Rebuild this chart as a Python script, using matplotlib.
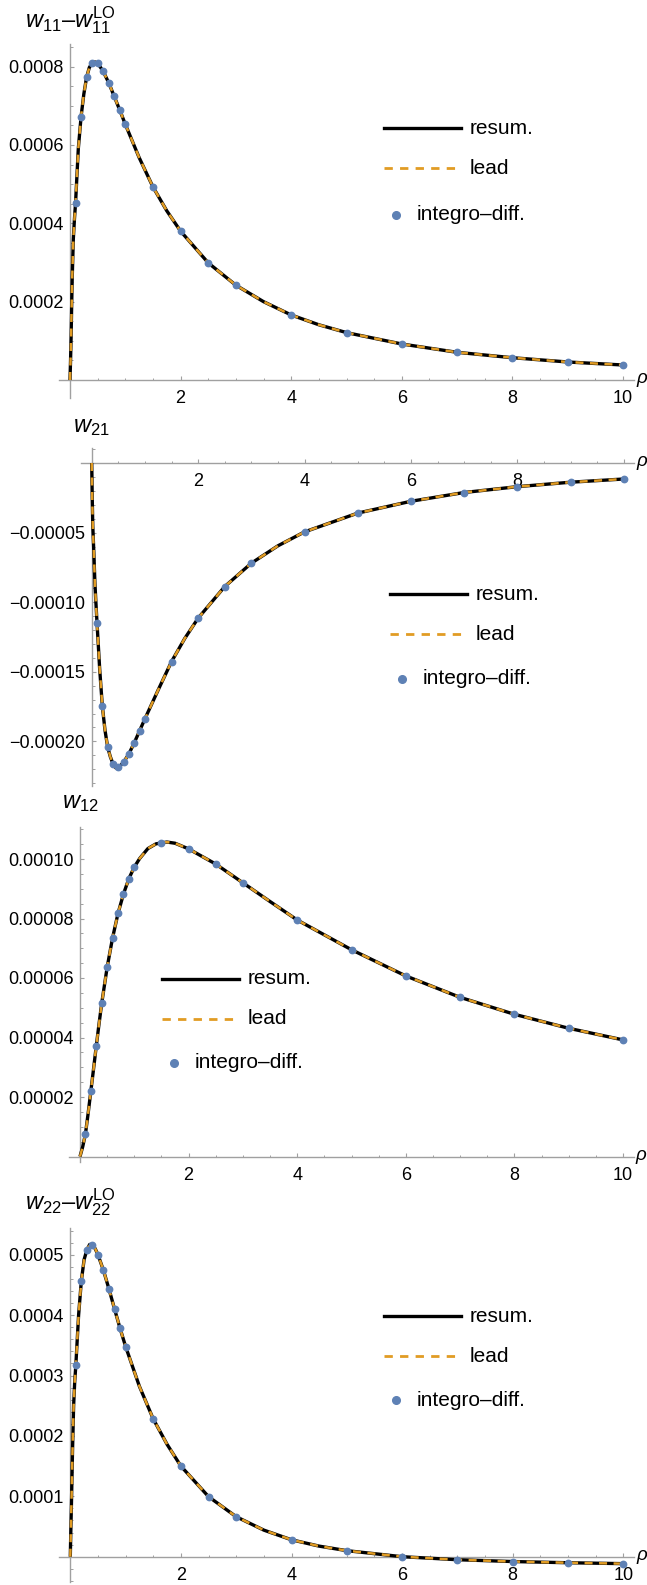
import numpy as np
import matplotlib
matplotlib.use("Agg")
import matplotlib.pyplot as plt
from matplotlib.lines import Line2D
from matplotlib.ticker import FixedLocator, MultipleLocator, FuncFormatter

plt.rcParams['font.family'] = ['Liberation Sans', 'DejaVu Sans']
plt.rcParams['mathtext.fontset'] = 'custom'
plt.rcParams['mathtext.rm'] = 'Liberation Sans'
plt.rcParams['mathtext.it'] = 'Liberation Sans:italic'

# Werte (Kurve resum. und lead liegen aufeinander)
rho_dots = [0.1, 0.2, 0.3, 0.4, 0.5, 0.6, 0.7, 0.8, 0.9, 1.0, 1.5, 2, 2.5, 3, 4, 5, 6, 7, 8, 9, 10]

# w11 - w11^LO
rho_11 = [0, 0.01, 0.02, 0.03, 0.04, 0.06, 0.08, 0.1, 0.15, 0.2, 0.25, 0.3, 0.35, 0.4, 0.45, 0.5, 0.6, 0.7, 0.8,
          0.9, 1.0, 1.25, 1.5, 1.75, 2, 2.5, 3, 3.5, 4, 4.5, 5, 6, 7, 8, 9, 10]
w11_curve = [0, 0.5, 1.1, 1.9, 2.6, 3.6, 4.1, 4.51, 5.9, 6.72, 7.30, 7.73, 7.98, 8.09, 8.12, 8.09, 7.88, 7.59, 7.24,
             6.89, 6.53, 5.68, 4.93, 4.32, 3.80, 2.99, 2.42, 2.00, 1.66, 1.41, 1.21, 0.919, 0.707, 0.569, 0.460, 0.383]
w11_dots = [4.51, 6.72, 7.73, 8.09, 8.09, 7.88, 7.59, 7.24, 6.89, 6.53, 4.93, 3.80, 2.99, 2.42, 1.66, 1.21,
            0.919, 0.707, 0.569, 0.460, 0.383]

# w21
rho_21 = [0, 0.01, 0.02, 0.04, 0.06, 0.08, 0.1, 0.15, 0.2, 0.25, 0.3, 0.35, 0.4, 0.45, 0.5, 0.55, 0.6, 0.7, 0.8,
          0.9, 1.0, 1.25, 1.5, 1.75, 2, 2.5, 3, 3.5, 4, 5, 6, 7, 8, 9, 10]
w21_curve = [0, -2.5, -4.5, -6.4, -8.6, -10.1, -11.49, -14.8, -17.47, -19.2, -20.41, -21.1, -21.61, -21.9, -21.85,
             -21.7, -21.49, -20.89, -20.10, -19.24, -18.38, -16.3, -14.27, -12.6, -11.15, -8.88, -7.2, -5.95, -4.95,
             -3.6, -2.75, -2.12, -1.7, -1.38, -1.15]
w21_dots = [-11.49, -17.47, -20.41, -21.61, -21.85, -21.49, -20.89, -20.10, -19.24, -18.38, -14.27, -11.15,
            -8.88, -7.2, -4.95, -3.6, -2.75, -2.12, -1.7, -1.38, -1.15]

# w12
rho_12 = [0, 0.05, 0.1, 0.15, 0.2, 0.25, 0.3, 0.35, 0.4, 0.5, 0.6, 0.7, 0.8, 0.9, 1.0, 1.1, 1.25, 1.4, 1.5, 1.6,
          1.75, 2, 2.5, 3, 3.5, 4, 5, 6, 7, 8, 9, 10]
w12_curve = [0, 0.33, 0.756, 1.45, 2.20, 2.95, 3.72, 4.45, 5.15, 6.36, 7.35, 8.17, 8.82, 9.34, 9.73, 10.02, 10.35,
             10.51, 10.54, 10.57, 10.53, 10.34, 9.83, 9.20, 8.57, 7.95, 6.95, 6.07, 5.35, 4.78, 4.31, 3.92]
w12_dots = [0.756, 2.20, 3.72, 5.15, 6.36, 7.35, 8.17, 8.82, 9.34, 9.73, 10.54, 10.34, 9.83, 9.20, 7.95, 6.95,
            6.07, 5.35, 4.78, 4.31, 3.92]

# w22 - w22^LO
rho_22 = [0, 0.01, 0.02, 0.04, 0.06, 0.08, 0.1, 0.15, 0.2, 0.25, 0.3, 0.35, 0.4, 0.45, 0.5, 0.6, 0.7, 0.8, 0.9,
          1.0, 1.25, 1.5, 1.75, 2, 2.5, 3, 3.5, 4, 4.5, 5, 6, 7, 8, 9, 10]
w22_curve = [0, 0.45, 0.85, 1.75, 2.5, 2.9, 3.17, 4.0, 4.57, 4.92, 5.08, 5.17, 5.16, 5.10, 5.00, 4.74, 4.43, 4.10,
             3.78, 3.48, 2.82, 2.28, 1.86, 1.50, 0.994, 0.662, 0.44, 0.28, 0.175, 0.10, 0.0, -0.05, -0.08, -0.10,
             -0.115]
w22_dots = [3.17, 4.57, 5.08, 5.16, 5.00, 4.74, 4.43, 4.10, 3.78, 3.48, 2.28, 1.50, 0.994, 0.662, 0.28, 0.10,
            0.0, -0.05, -0.08, -0.10, -0.115]

blue = "#5E81B5"
orange = "#E19C24"
grau = "#a0a0a0"

W, H = 647, 1585
fig = plt.figure(figsize=(W / 100, H / 100), dpi=100)


def px2fig(x, y):
    return x / W, 1 - y / H


def make_axes(x0, ppx, y0, ppy, xlim, ylim):
    left = x0 + xlim[0] * ppx
    right = x0 + xlim[1] * ppx
    top = y0 - ylim[1] * ppy
    bottom = y0 - ylim[0] * ppy
    ax = fig.add_axes([left / W, 1 - bottom / H, (right - left) / W, (bottom - top) / H])
    ax.set_xlim(xlim)
    ax.set_ylim(ylim)
    ax.patch.set_alpha(0)
    return ax, right


def legende(xs, ys):
    # xs = Beginn der Linie, ys = Zeilen
    l1 = Line2D([xs / W, (xs + 77) / W], [1 - ys[0] / H] * 2, color="black", lw=2.4, transform=fig.transFigure)
    l2 = Line2D([xs / W, (xs + 77) / W], [1 - ys[1] / H] * 2, color=orange, lw=2.0,
                linestyle=(0, (3.0, 2.6)), transform=fig.transFigure)
    l3 = Line2D([(xs + 12) / W], [1 - ys[2] / H], color=blue, marker="o", ms=5.5, lw=0,
                transform=fig.transFigure)
    for l in (l1, l2, l3):
        fig.add_artist(l)
    fig.text((xs + 86) / W, 1 - ys[0] / H, "resum.", fontsize=15, va="center")
    fig.text((xs + 86) / W, 1 - ys[1] / H, "lead", fontsize=15, va="center")
    fig.text((xs + 33) / W, 1 - ys[2] / H, "integro\u2013diff.", fontsize=15, va="center")


panels = [
    dict(x0=70, ppx=55.3, y0=380, ppy=391667, ylim=(-0.000046, 0.000858), rho=rho_11, curve=w11_curve,
         dots=w11_dots, scale=1e-4, major=0.0002, minor=0.00005, fmt="{:.4f}",
         title=r"$w_{11}$–$w_{11}^{\mathrm{LO}}$", tb=27, leg=(384, [128, 168, 215]), xlab=[2, 4, 6, 8, 10]),
    dict(x0=91.7, ppx=53.2, y0=463, ppy=1.392e6, ylim=(-0.000232, 0.000011), rho=rho_21, curve=w21_curve,
         dots=w21_dots, scale=1e-5, major=0.00005, minor=0.00001, fmt="{:.5f}",
         title=r"$w_{21}$", tb=432, leg=(390, [594, 634, 679]), xlab=[2, 4, 6, 8]),
    dict(x0=80, ppx=54.3, y0=1156.5, ppy=2.975e6, ylim=(-0.000002, 0.0001107), rho=rho_12, curve=w12_curve,
         dots=w12_dots, scale=1e-5, major=0.00002, minor=0.000005, fmt="{:.5f}",
         title=r"$w_{12}$", tb=808, leg=(162, [979, 1019, 1063]), xlab=[2, 4, 6, 8, 10]),
    dict(x0=70.3, ppx=55.3, y0=1556.7, ppy=604000, ylim=(-0.000042, 0.000544), rho=rho_22, curve=w22_curve,
         dots=w22_dots, scale=1e-4, major=0.0001, minor=0.00002, fmt="{:.4f}",
         title=r"$w_{22}$–$w_{22}^{\mathrm{LO}}$", tb=1209, leg=(384, [1316, 1356, 1400]), xlab=[2, 4, 6, 8, 10]),
]

for p in panels:
    ax, right_px = make_axes(p["x0"], p["ppx"], p["y0"], p["ppy"], (-0.2, 10.2), p["ylim"])
    y_curve = np.array(p["curve"]) * p["scale"]
    y_dots = np.array(p["dots"]) * p["scale"]
    ax.plot(p["rho"], y_curve, color="black", lw=2.4, solid_capstyle="butt", zorder=3)
    ax.plot(p["rho"], y_curve, color=orange, lw=1.8, linestyle=(0, (3.2, 2.6)), zorder=4)
    ax.plot(rho_dots, y_dots, "o", color=blue, ms=4.6, zorder=5)

    for s in ("top", "right"):
        ax.spines[s].set_visible(False)
    for s in ("left", "bottom"):
        ax.spines[s].set_position(("data", 0))
        ax.spines[s].set_color(grau)
        ax.spines[s].set_linewidth(1.0)

    # Ticks wie in Mathematica
    ax.xaxis.set_major_locator(FixedLocator([2, 4, 6, 8, 10]))
    ax.xaxis.set_minor_locator(FixedLocator([v for v in np.arange(0.5, 10.01, 0.5) if v % 2 != 0]))
    ax.xaxis.set_major_formatter(FuncFormatter(lambda v, pos, xl=p["xlab"]: f"{v:g}" if v in xl else ""))
    ymaj = [v * p["major"] for v in range(-10, 11) if v != 0 and p["ylim"][0] <= v * p["major"] <= p["ylim"][1]]
    ax.yaxis.set_major_locator(FixedLocator(ymaj))
    ax.yaxis.set_minor_locator(MultipleLocator(p["minor"]))
    ax.yaxis.set_major_formatter(FuncFormatter(lambda v, pos, f=p["fmt"]: f.format(v).replace("-", "\u2212")))
    ax.tick_params(which="both", direction="in", colors=grau, labelcolor="black", labelsize=13)
    ax.tick_params(which="major", length=3.2, width=0.8)
    ax.tick_params(which="minor", length=1.8, width=0.7)
    ax.tick_params(axis="x", pad=7.5)
    ax.tick_params(axis="y", pad=4.5)

    # Achsenbeschriftungen
    fx, fy = px2fig(right_px + 1.5, p["y0"])
    fig.text(fx, fy, r"$\rho$", fontsize=13.5, ha="left", va="center")
    fx, fy = px2fig(p["x0"], p["tb"])
    fig.text(fx, fy, p["title"], fontsize=17, ha="center", va="baseline")

    legende(*p["leg"])

fig.savefig("out.png", dpi=100)
